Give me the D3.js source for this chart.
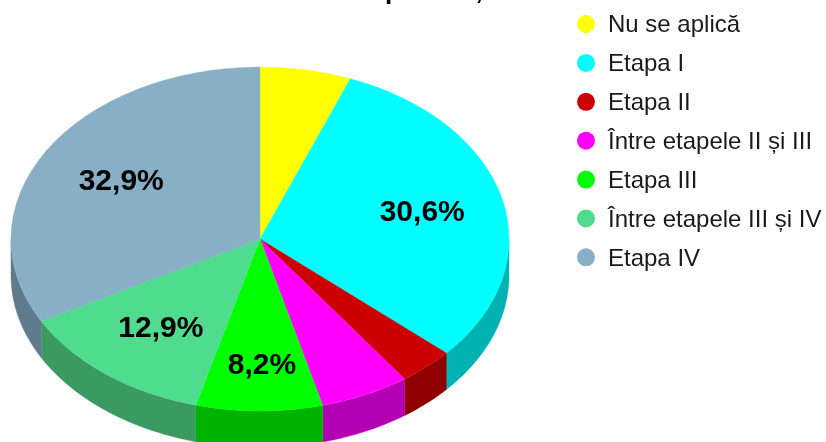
<!DOCTYPE html>
<html>
<head>
<meta charset="utf-8">
<script src="https://cdn.jsdelivr.net/npm/d3@7"></script>
<style>
  html, body { margin: 0; padding: 0; background: #fff; overflow: hidden; }
  svg { display: block; font-family: "Liberation Sans", Arial, sans-serif; filter: blur(0.4px); }
</style>
</head>
<body>
<svg id="chart" width="826" height="442"></svg>
<script>
// chart data
const categories = ['Nu se aplică', 'Etapa I', 'Etapa II', 'Între etapele II și III', 'Etapa III', 'Între etapele III și IV', 'Etapa IV'];
const values = [5.9, 30.6, 3.6, 5.8, 8.2, 12.9, 32.9];
const topColors = ['#ffff00', '#00ffff', '#cc0000', '#ff00ff', '#00ff00', '#50dc8f', '#88afc5'];
const sideColors = ['#b3b300', '#00b3b3', '#8f0000', '#b300b3', '#00b300', '#3a9a62', '#607b8c'];

const width = 826, height = 442;
const cx = 260, cy = 239, rx = 249, ry = 172, depth = 36.5;
const labelMin = 8;

const svg = d3.select('#chart');
const fmt = v => v.toFixed(1).replace('.', ',') + '%';

// only the descenders of the title are left inside the frame
const titleBits = [{ t: 'p', x: 393 }, { t: ',', x: 479 }];
svg.selectAll('.title-bit')
    .data(titleBits)
    .join('text')
    .attr('class', 'title-bit')
    .attr('x', d => d.x)
    .attr('y', -1)
    .attr('text-anchor', 'middle')
    .attr('font-size', 26)
    .attr('font-weight', 700)
    .text(d => d.t);

const pie = d3.pie().sort(null).value(d => d);
const slices = pie(values).map((s, i) => ({ ...s, i }));

const ex = a => cx + rx * Math.sin(a);
const ey = a => cy - ry * Math.cos(a);

// side walls, front half of the ellipse only
const line = d3.line().x(d => d[0]).y(d => d[1]);
const wall = d => {
    const a0 = Math.max(d.startAngle, Math.PI / 2);
    const a1 = Math.min(d.endAngle, Math.PI * 1.5);
    if (a1 <= a0) return null;
    const n = Math.ceil((a1 - a0) / 0.02);
    const angles = d3.range(n + 1).map(k => a0 + (a1 - a0) * k / n);
    const top = angles.map(a => [ex(a), ey(a)]);
    const bottom = angles.slice().reverse().map(a => [ex(a), ey(a) + depth]);
    return line(top.concat(bottom)) + 'Z';
};

svg.append('g')
    .selectAll('path')
    .data(slices.filter(wall))
    .join('path')
    .attr('d', wall)
    .attr('fill', d => sideColors[d.i])
    .attr('stroke', d => sideColors[d.i])
    .attr('stroke-width', 0.4);

const arc = d3.arc().innerRadius(0).outerRadius(rx);
svg.append('g')
    .attr('transform', `translate(${cx},${cy}) scale(1,${ry / rx})`)
    .selectAll('path')
    .data(slices)
    .join('path')
    .attr('d', arc)
    .attr('fill', d => topColors[d.i])
    .attr('stroke', d => topColors[d.i])
    .attr('stroke-width', 0.4);

// labels for the larger slices
svg.append('g')
    .selectAll('text')
    .data(slices.filter(d => d.value >= labelMin))
    .join('text')
    .each(function(d) {
        const mid = (d.startAngle + d.endAngle) / 2;
        const f = d.value < 10 ? 0.73 : 0.66;
        d3.select(this)
            .attr('x', cx + 2.5 + rx * f * Math.sin(mid))
            .attr('y', cy - ry * f * Math.cos(mid));
    })
    .attr('dy', '0.3em')
    .attr('text-anchor', 'middle')
    .attr('font-size', 30)
    .attr('font-weight', 700)
    .attr('fill', '#000')
    .text(d => fmt(d.value));

// legend
const legendY = d3.scalePoint().domain(categories).range([24, 257.3]);
const legend = svg.append('g')
    .selectAll('g')
    .data(categories)
    .join('g')
    .attr('transform', d => `translate(586,${legendY(d)})`);

legend.append('circle')
    .attr('r', 9)
    .attr('fill', (d, i) => topColors[i]);

legend.append('text')
    .attr('x', 22)
    .attr('dy', '0.35em')
    .attr('font-size', 24)
    .attr('fill', '#1a1a1a')
    .text(d => d);
</script>
</body>
</html>
